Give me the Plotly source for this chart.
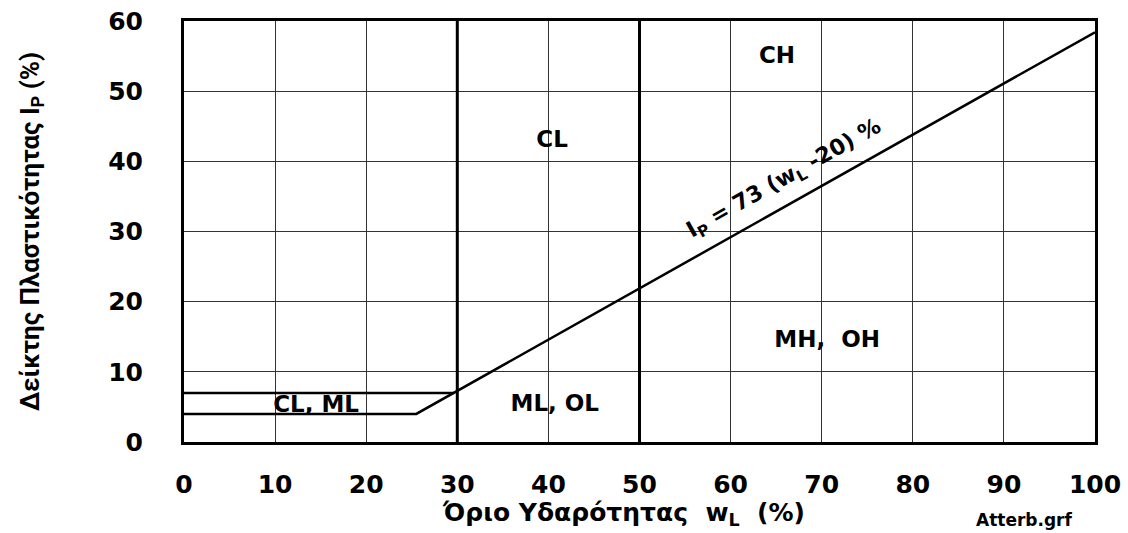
import plotly.graph_objects as go

# Data
x_ticks = [0, 10, 20, 30, 40, 50, 60, 70, 80, 90, 100]
y_ticks = [0, 10, 20, 30, 40, 50, 60]
a_line_x = [0, 25.5, 100]
a_line_y = [4, 4, 58.4]
upper_x = [0, 29.6]
upper_y = [7, 7]
wl30_x = [30, 30]
wl50_x = [50, 50]
v_y = [0, 60]
zone_labels = ["CL, ML", "ML, OL", "CL", "CH", "MH,  OH"]
zone_x = [14.5, 40.7, 40.4, 65.1, 70.6]
zone_y = [5.05, 5.2, 42.8, 54.9, 14.3]

BF = "DejaVu Sans, Verdana, sans-serif"
NF = "Roboto, Noto Sans, sans-serif"

fig = go.Figure()
line_style = dict(color="black", width=2.5)
fig.add_trace(go.Scatter(x=a_line_x, y=a_line_y, mode="lines", line=line_style, hoverinfo="skip"))
fig.add_trace(go.Scatter(x=upper_x, y=upper_y, mode="lines", line=line_style, hoverinfo="skip"))
fig.add_trace(go.Scatter(x=wl30_x, y=v_y, mode="lines", line=dict(color="black", width=3), hoverinfo="skip"))
fig.add_trace(go.Scatter(x=wl50_x, y=v_y, mode="lines", line=dict(color="black", width=3), hoverinfo="skip"))
fig.add_trace(go.Scatter(x=zone_x, y=zone_y, mode="text", text=zone_labels,
                         textfont=dict(family=BF, size=23, color="black", weight="bold"),
                         hoverinfo="skip"))

fig.update_layout(
    width=1128, height=533,
    margin=dict(l=184, r=33, t=21, b=91),
    paper_bgcolor="white", plot_bgcolor="white",
    showlegend=False,
    annotations=[
        dict(x=65.9, y=37.4, xref="x", yref="y",
             text="I<sub>P</sub> = 73 (w<sub>L</sub> -20) %", showarrow=False,
             textangle=-29.4, font=dict(family=BF, size=22, color="black", weight="bold")),
        dict(x=0.482, y=-0.17, xref="paper", yref="paper",
             text="Όριο Υδαρότητας  w<sub>L</sub>  (%)", showarrow=False,
             xanchor="center", yanchor="middle",
             font=dict(family=BF, size=25, color="black", weight="bold")),
        dict(x=0.923, y=-0.185, xref="paper", yref="paper", text="Atterb.grf", xanchor="center",
             yanchor="middle", showarrow=False,
             font=dict(family=BF, size=17, color="black", weight="bold")),
    ],
)
fig.update_xaxes(range=[0, 100], tickvals=x_ticks, ticks="", showgrid=True, gridcolor="#333",
                 gridwidth=1, showline=True, linecolor="black", linewidth=3, mirror=True,
                 zeroline=False, ticklabelstandoff=18, automargin=False,
                 tickfont=dict(family=BF, size=25, color="black", weight="bold"))
fig.update_yaxes(range=[0, 60], tickvals=y_ticks, ticks="", showgrid=True, gridcolor="#333",
                 gridwidth=1, showline=True, linecolor="black", linewidth=3, mirror=True,
                 zeroline=False, ticklabelstandoff=33, automargin=False,
                 tickfont=dict(family=BF, size=25, color="black", weight="bold"),
                 title=dict(text="Δείκτης Πλαστικότητας I<sub>P</sub> (%)", standoff=62,
                            font=dict(family=NF, size=26, color="black", weight="bold")))

fig.write_html("out.html")
